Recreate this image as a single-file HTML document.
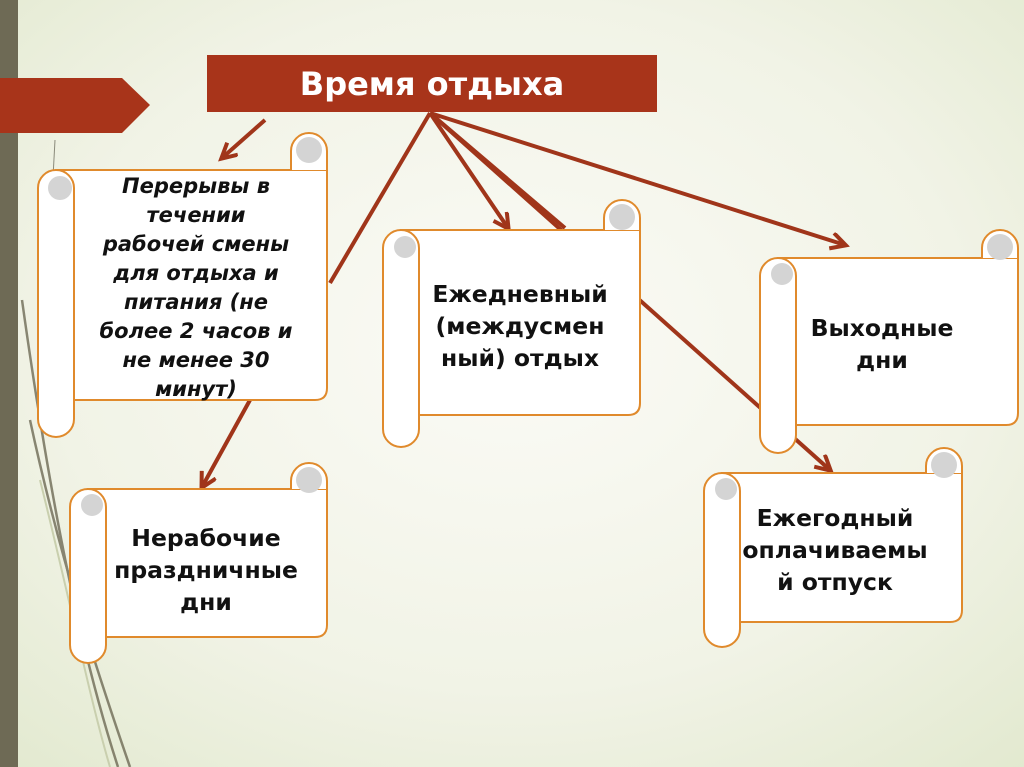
<!DOCTYPE html>
<html><head><meta charset="utf-8"><style>
html,body{margin:0;padding:0;width:1024px;height:767px;overflow:hidden}
svg{display:block}
text{font-family:"DejaVu Sans","Liberation Sans",sans-serif;font-weight:bold;fill:#111;text-anchor:middle}
</style></head><body>
<svg width="1024" height="767" viewBox="0 0 1024 767">
<defs>
<radialGradient id="bg" cx="0.5" cy="0.45" r="0.75">
<stop offset="0" stop-color="#fbfbf6"/><stop offset="0.6" stop-color="#f1f3e6"/><stop offset="1" stop-color="#e2e9cf"/>
</radialGradient>
<marker id="ah" markerWidth="20" markerHeight="20" refX="15" refY="9" orient="auto" markerUnits="userSpaceOnUse">
<path d="M1,1 L16,9 L1,17" fill="none" stroke="#a0351a" stroke-width="4"/>
</marker>
</defs>
<rect width="1024" height="767" fill="url(#bg)"/>
<rect x="0" y="0" width="18" height="767" fill="#6e6a55"/>
<g fill="none" stroke="#6e6a55" stroke-width="2.5" opacity="0.8">
<path d="M30,420 C60,560 100,680 130,767"/>
<path d="M22,300 C50,500 80,650 118,767"/>
</g>
<g fill="none" stroke="#c9cfae" stroke-width="2">
<path d="M40,480 C70,600 90,700 110,767"/>
</g>
<path d="M55,140 L40,420" stroke="#8a8a7a" stroke-width="1"/>
<path d="M0,78 H122 L150,105 L122,133 H0 Z" fill="#a8341a"/>
<rect x="207" y="55" width="450" height="57" fill="#a8341a"/>
<text x="432" y="95" style="fill:#fff;font-size:32px">Время отдыха</text>
<g stroke="#a0351a" stroke-width="4" fill="none">
<line x1="430" y1="113" x2="330" y2="283"/>
<line x1="430" y1="113" x2="565" y2="228"/>
<line x1="430" y1="113" x2="830" y2="470" marker-end="url(#ah)"/>
<line x1="430" y1="113" x2="508" y2="228" marker-end="url(#ah)"/>
<line x1="430" y1="113" x2="845" y2="245" marker-end="url(#ah)"/>
<line x1="265" y1="120" x2="222" y2="158" marker-end="url(#ah)"/>
<line x1="250" y1="400" x2="202" y2="487" marker-end="url(#ah)"/>
</g>
<g stroke="#e08a2c" stroke-width="2" fill="#fff">
<path d="M56,170 H327 V388 Q327,400 315,400 H74 Z"/>
<path d="M291,170 V151 A18,18 0 0 1 327,151 V170"/>
<circle cx="309" cy="150" r="13" fill="#d4d4d4" stroke="none"/>
<rect x="38" y="170" width="36" height="267" rx="18"/>
<circle cx="60" cy="188" r="12" fill="#d4d4d4" stroke="none"/>
<path d="M88,489 H327 V625 Q327,637 315,637 H106 Z"/>
<path d="M291,489 V481 A18,18 0 0 1 327,481 V489"/>
<circle cx="309" cy="480" r="13" fill="#d4d4d4" stroke="none"/>
<rect x="70" y="489" width="36" height="174" rx="18"/>
<circle cx="92" cy="505" r="11" fill="#d4d4d4" stroke="none"/>
<path d="M401,230 H640 V403 Q640,415 628,415 H419 Z"/>
<path d="M604,230 V218 A18,18 0 0 1 640,218 V230"/>
<circle cx="622" cy="217" r="13" fill="#d4d4d4" stroke="none"/>
<rect x="383" y="230" width="36" height="217" rx="18"/>
<circle cx="405" cy="247" r="11" fill="#d4d4d4" stroke="none"/>
<path d="M778,258 H1018 V413 Q1018,425 1006,425 H796 Z"/>
<path d="M982,258 V248 A18,18 0 0 1 1018,248 V258"/>
<circle cx="1000" cy="247" r="13" fill="#d4d4d4" stroke="none"/>
<rect x="760" y="258" width="36" height="195" rx="18"/>
<circle cx="782" cy="274" r="11" fill="#d4d4d4" stroke="none"/>
<path d="M722,473 H962 V610 Q962,622 950,622 H740 Z"/>
<path d="M926,473 V466 A18,18 0 0 1 962,466 V473"/>
<circle cx="944" cy="465" r="13" fill="#d4d4d4" stroke="none"/>
<rect x="704" y="473" width="36" height="174" rx="18"/>
<circle cx="726" cy="489" r="11" fill="#d4d4d4" stroke="none"/>
</g>
<g style="font-size:21px;font-style:italic">
<text x="196" y="193">Перерывы в</text>
<text x="196" y="222">течении</text>
<text x="196" y="251">рабочей смены</text>
<text x="196" y="280">для отдыха и</text>
<text x="196" y="309">питания (не</text>
<text x="196" y="338">более 2 часов и</text>
<text x="196" y="367">не менее 30</text>
<text x="196" y="396">минут)</text>
</g>
<g style="font-size:23.5px">
<text x="206" y="546">Нерабочие</text>
<text x="206" y="578">праздничные</text>
<text x="206" y="610">дни</text>
<text x="520" y="302">Ежедневный</text>
<text x="520" y="334">(междусмен</text>
<text x="520" y="366">ный) отдых</text>
<text x="882" y="336">Выходные</text>
<text x="882" y="368">дни</text>
<text x="835" y="526">Ежегодный</text>
<text x="835" y="558">оплачиваемы</text>
<text x="835" y="590">й отпуск</text>
</g>
</svg>
</body></html>
